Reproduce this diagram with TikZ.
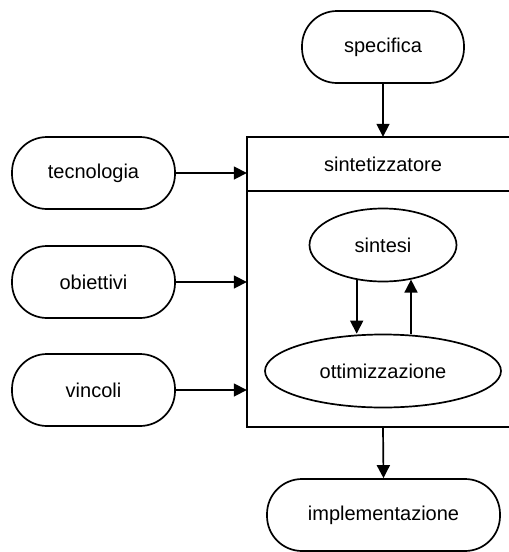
\documentclass[tikz,border=0pt]{standalone}
\usepackage{fontspec}
\setmainfont{Liberation Sans}
\usetikzlibrary{arrows.meta,shapes.geometric}
\begin{document}
\begin{tikzpicture}[x=1pt,y=-1pt,
  every node/.style={font=\fontsize{20}{24}\selectfont, inner sep=0pt},
  line/.style={line width=1.7pt},
  flow/.style={line, -{Triangle[length=13pt,width=13pt]}},
  terminal/.style={draw, line width=1.7pt, rectangle, rounded corners=35pt,
    minimum height=72pt, minimum width=#1},
  oval/.style={draw, line width=1.7pt, ellipse, minimum height=73pt, minimum width=#1},
]
\useasboundingbox (0,0) rectangle (509,552);

% inputs and outputs
\node[terminal=162pt] (spec) at (383,47) {specifica};
\node[terminal=163pt] (tech) at (93.5,173) {tecnologia};
\node[terminal=163pt] (goal) at (93.5,282) {obiettivi};
\node[terminal=163pt] (cons) at (93.5,390) {vincoli};
\node[terminal=233pt] (impl) at (383.5,515) {implementazione};

% synthesizer block with its header
\node[minimum width=272pt, minimum height=290pt] (synth) at (383,282) {};
\node (head) at (383,164) {sintetizzatore};
\coordinate (divL) at (247,191);
\coordinate (divR) at (519,191);
\draw[line] (synth.north east) -- (synth.north west) -- (synth.south west) -- (synth.south east);
\draw[line] (divL) -- (divR);

% inner loop
\node[oval=147pt] (sint) at (383,245) {sintesi};
\node[oval=236pt] (opt) at (383,371) {ottimizzazione};
\draw[flow] (sint.-127) -- (sint.-127 |- opt.north);
\draw[flow] (sint.-51.5 |- opt.north) -- (sint.-51.5);

% connections
\draw[flow] (spec.south) -- (synth.north);
\draw[flow] (tech.east) -- (tech.east -| synth.west);
\draw[flow] (goal.east) -- (goal.east -| synth.west);
\draw[flow] (cons.east) -- (cons.east -| synth.west);
\draw[flow] (synth.south) -- (impl.north);
\end{tikzpicture}
\end{document}
